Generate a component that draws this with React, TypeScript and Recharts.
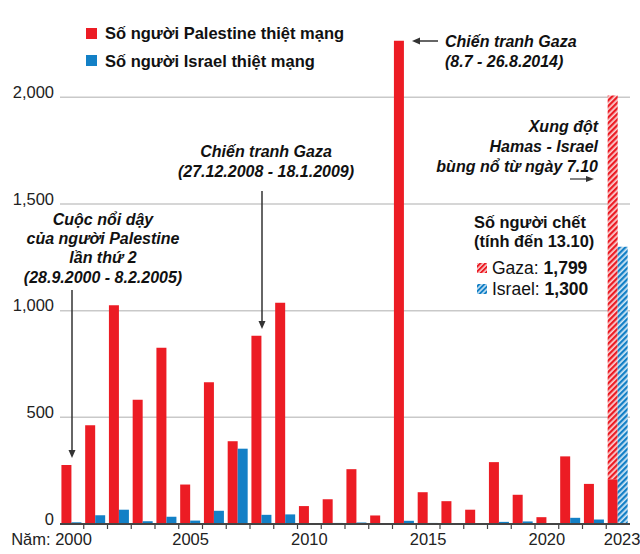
import React from "react";
import { BarChart, Bar, XAxis, YAxis, CartesianGrid } from "recharts";

const years = ["2000", "2001", "2002", "2003", "2004", "2005", "2006", "2007", "2008", "2009", "2010", "2011", "2012", "2013", "2014", "2015", "2016", "2017", "2018", "2019", "2020", "2021", "2022", "2023"];
const palestineKilled = [277, 463, 1025, 582, 826, 185, 664, 388, 882, 1037, 84, 116, 257, 40, 2265, 149, 107, 67, 290, 137, 32, 317, 188, 210];
const israelKilled = [8, 41, 67, 13, 34, 16, 62, 353, 43, 45, 0, 5, 7, 0, 15, 5, 3, 2, 10, 12, 2, 29, 21, 0];
const gazaSince7Oct = [0, 0, 0, 0, 0, 0, 0, 0, 0, 0, 0, 0, 0, 0, 0, 0, 0, 0, 0, 0, 0, 0, 0, 1799];
const israelSince7Oct = [0, 0, 0, 0, 0, 0, 0, 0, 0, 0, 0, 0, 0, 0, 0, 0, 0, 0, 0, 0, 0, 0, 0, 1300];
const yTicks = [0, 500, 1000, 1500, 2000];
const gridValues = [500, 1000, 1500, 2000];
const xTickLabels = ["2000", "2005", "2010", "2015", "2020", "2023"];

const data = years.map((year, i) => ({
  year,
  palestine: palestineKilled[i],
  palestineWar: gazaSince7Oct[i],
  israel: israelKilled[i],
  israelWar: israelSince7Oct[i],
}));

const RED = "#EC1C24";
const BLUE = "#1380C6";
const FONT = "'Liberation Sans', Arial, Helvetica, sans-serif";
const HALF_BAND = 570 / 24 / 2;

function XTick(props: any) {
  const { x, y, payload, index } = props;
  const label = String(payload.value);
  const show = xTickLabels.includes(label);
  return (
    <g>
      {index > 0 && (
        <line x1={x - HALF_BAND} x2={x - HALF_BAND} y1={y} y2={y + 5} stroke="#444" strokeWidth={1.2} />
      )}
      {show && (
        <text
          x={index === 0 ? x + 20 : label === "2023" ? x + 4 : x}
          y={y + 21}
          textAnchor={index === 0 ? "end" : "middle"}
          fontFamily={FONT}
          fontSize={16.5}
          fill="#222"
        >
          {index === 0 ? `Năm: ${label}` : label}
        </text>
      )}
    </g>
  );
}

function YTick(props: any) {
  const { x, y, payload } = props;
  return (
    <text x={x} y={y + 0.5} textAnchor="end" fontFamily={FONT} fontSize={16.5} fill="#222">
      {Number(payload.value).toLocaleString("en-US")}
    </text>
  );
}

const annot: React.CSSProperties = {
  position: "absolute",
  fontFamily: FONT,
  fontWeight: "bold",
  fontStyle: "italic",
  fontSize: 16,
  color: "#111",
  whiteSpace: "nowrap",
  pointerEvents: "none",
};

function ArrowHead({ x, y, dir }: { x: number; y: number; dir: "down" | "left" | "right" }) {
  let pts = "";
  if (dir === "down") pts = `${x - 3.5},${y - 8} ${x + 3.5},${y - 8} ${x},${y}`;
  if (dir === "left") pts = `${x + 8},${y - 3.5} ${x + 8},${y + 3.5} ${x},${y}`;
  if (dir === "right") pts = `${x - 8},${y - 3} ${x - 8},${y + 3} ${x},${y}`;
  return <polygon points={pts} fill="#333" />;
}

export default function App() {
  return (
    <div style={{ position: "relative", width: 640, height: 554, background: "#fff" }}>
      <style>{`body{margin:0;}`}</style>
      <BarChart
        width={640}
        height={554}
        data={data}
        margin={{ top: 12, right: 10, bottom: 0, left: 0 }}
        barCategoryGap="6%"
        barGap={0}
      >
        <defs>
          <pattern id="hatchRed" width="4" height="4" patternUnits="userSpaceOnUse" patternTransform="rotate(45)">
            <rect width="4" height="4" fill="#f9d4d4" />
            <rect width="2.3" height="4" fill={RED} />
          </pattern>
          <pattern id="hatchBlue" width="4" height="4" patternUnits="userSpaceOnUse" patternTransform="rotate(45)">
            <rect width="4" height="4" fill="#d3e8f6" />
            <rect width="2.3" height="4" fill={BLUE} />
          </pattern>
        </defs>
        <CartesianGrid vertical={false} horizontalValues={gridValues} stroke="#c9c9c9" strokeWidth={1.5} />
        <XAxis
          dataKey="year"
          interval={0}
          height={30}
          tickSize={0}
          tickMargin={0}
          tickLine={false}
          axisLine={{ stroke: "#444", strokeWidth: 2 }}
          tick={<XTick />}
        />
        <YAxis
          width={60}
          domain={[0, 2400]}
          ticks={yTicks}
          interval={0}
          tickSize={0}
          tickMargin={6}
          axisLine={false}
          tickLine={false}
          tick={<YTick />}
        />
        <Bar dataKey="palestine" stackId="p" fill={RED} isAnimationActive={false} />
        <Bar dataKey="palestineWar" stackId="p" fill="url(#hatchRed)" isAnimationActive={false} />
        <Bar dataKey="israel" stackId="i" fill={BLUE} isAnimationActive={false} />
        <Bar dataKey="israelWar" stackId="i" fill="url(#hatchBlue)" isAnimationActive={false} />
      </BarChart>

      {/* legend */}
      <div style={{ position: "absolute", left: 86, top: 28, width: 11, height: 11, background: RED }} />
      <div style={{ position: "absolute", left: 86, top: 55, width: 11, height: 11, background: BLUE }} />
      <div style={{ ...annot, fontStyle: "normal", fontSize: 16.5, left: 105, top: 23, lineHeight: "20px" }}>
        Số người Palestine thiệt mạng
      </div>
      <div style={{ ...annot, fontStyle: "normal", fontSize: 16.5, left: 105, top: 51, lineHeight: "20px" }}>
        Số người Israel thiệt mạng
      </div>

      {/* annotations */}
      <div style={{ ...annot, left: 3, top: 209.5, width: 200, textAlign: "center", lineHeight: "19.4px" }}>
        Cuộc nổi dậy
        <br />
        của người Palestine
        <br />
        lần thứ 2
        <br />
        (28.9.2000 - 8.2.2005)
      </div>
      <div style={{ ...annot, left: 166, top: 142, width: 200, textAlign: "center", lineHeight: "19.5px" }}>
        Chiến tranh Gaza
        <br />
        (27.12.2008 - 18.1.2009)
      </div>
      <div style={{ ...annot, left: 445, top: 32, lineHeight: "20px" }}>
        Chiến tranh Gaza
        <br />
        (8.7 - 26.8.2014)
      </div>
      <div style={{ ...annot, right: 42, top: 117, textAlign: "right", lineHeight: "20px" }}>
        Xung đột
        <br />
        Hamas - Israel
        <br />
        bùng nổ từ ngày 7.10
      </div>
      <div style={{ ...annot, fontStyle: "normal", fontSize: 16.4, left: 474, top: 213, lineHeight: "19px" }}>
        Số người chết
        <br />
        (tính đến 13.10)
      </div>
      <div style={{ ...annot, fontStyle: "normal", fontWeight: "normal", fontSize: 17.5, left: 492, top: 257.5, lineHeight: "21px" }}>
        Gaza: <b>1,799</b>
      </div>
      <div style={{ ...annot, fontStyle: "normal", fontWeight: "normal", fontSize: 17.5, left: 492, top: 278.5, lineHeight: "21px" }}>
        Israel: <b>1,300</b>
      </div>

      <svg width={640} height={554} style={{ position: "absolute", left: 0, top: 0, pointerEvents: "none" }}>
        <defs>
          <pattern id="lgRed" width="3.5" height="3.5" patternUnits="userSpaceOnUse" patternTransform="rotate(45)">
            <rect width="3.5" height="3.5" fill="#f9d4d4" />
            <rect width="2" height="3.5" fill={RED} />
          </pattern>
          <pattern id="lgBlue" width="3.5" height="3.5" patternUnits="userSpaceOnUse" patternTransform="rotate(45)">
            <rect width="3.5" height="3.5" fill="#d3e8f6" />
            <rect width="2" height="3.5" fill={BLUE} />
          </pattern>
        </defs>
        <rect x={477} y={263} width={10} height={10} fill="url(#lgRed)" />
        <rect x={477} y={284} width={10} height={10} fill="url(#lgBlue)" />

        <line x1={72} x2={72} y1={290} y2={452} stroke="#333" strokeWidth={1.5} />
        <ArrowHead x={72} y={458} dir="down" />
        <line x1={262} x2={262} y1={191} y2={323} stroke="#333" strokeWidth={1.5} />
        <ArrowHead x={262} y={329} dir="down" />
        <line x1={418} x2={438} y1={41} y2={41} stroke="#333" strokeWidth={1.5} />
        <ArrowHead x={412} y={41} dir="left" />
        <line x1={570} x2={588} y1={179} y2={179} stroke="#333" strokeWidth={1.2} />
        <ArrowHead x={594} y={179} dir="right" />
      </svg>
    </div>
  );
}
